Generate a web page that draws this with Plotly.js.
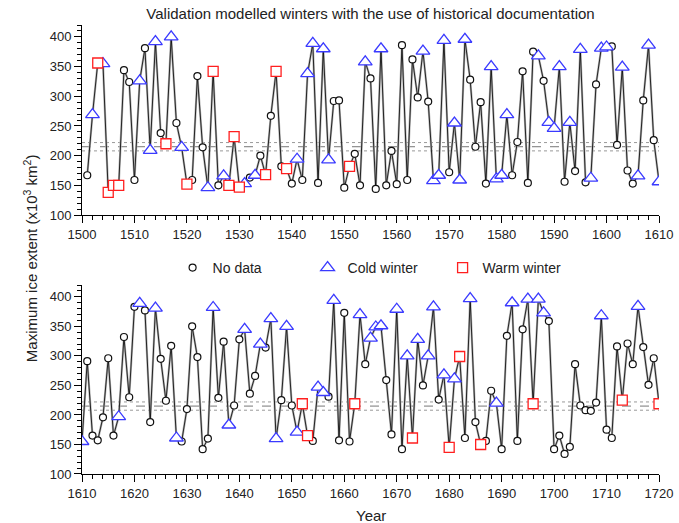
<!DOCTYPE html>
<html>
<head>
<meta charset="utf-8">
<script src="https://cdn.plot.ly/plotly-3.0.1.min.js"></script>
<style>html,body{margin:0;padding:0;background:#fff}#chart{width:679px;height:523px}</style>
</head>
<body>
<div id="chart"></div>
<script>
// ---- Data ----
// Upper panel: 1501-1610
const yearsTop = [1501,1502,1503,1504,1505,1506,1507,1508,1509,1510,1511,1512,1513,1514,1515,1516,1517,1518,1519,1520,
  1521,1522,1523,1524,1525,1526,1527,1528,1529,1530,1531,1532,1533,1534,1535,1536,1537,1538,1539,1540,
  1541,1542,1543,1544,1545,1546,1547,1548,1549,1550,1551,1552,1553,1554,1555,1556,1557,1558,1559,1560,
  1561,1562,1563,1564,1565,1566,1567,1568,1569,1570,1571,1572,1573,1574,1575,1576,1577,1578,1579,1580,
  1581,1582,1583,1584,1585,1586,1587,1588,1589,1590,1591,1592,1593,1594,1595,1596,1597,1598,1599,1600,
  1601,1602,1603,1604,1605,1606,1607,1608,1609,1610];
const valuesTop = [167,269,356,355,138,150,150,344,324,159,326,381,209,392,238,220,400,255,214,152,
  159,334,214,146,342,150,166,150,232,147,153,163,167,200,168,267,342,182,178,153,
  194,159,338,389,154,380,193,292,293,146,182,203,150,358,330,144,380,150,208,152,
  386,159,362,298,376,291,158,167,394,172,255,159,396,328,215,290,153,350,161,167,
  269,167,223,342,154,375,368,326,256,246,350,156,256,174,379,155,162,320,381,383,
  384,218,349,175,153,166,293,386,226,156];
// n = no data, c = cold winter, w = warm winter
const typesTop = ['n','c','w','c','w','w','w','n','n','n','c','n','c','c','n','w','c','n','c','w',
  'n','n','n','c','w','n','c','w','w','w','c','n','c','n','w','n','w','n','w','n',
  'c','n','c','c','n','c','c','n','n','n','w','n','n','c','n','n','c','n','n','n',
  'n','n','n','n','c','n','c','c','c','n','c','c','c','n','n','n','n','c','c','c',
  'c','n','n','n','n','n','c','n','c','c','c','n','c','n','c','n','c','n','c','c',
  'n','n','c','n','n','c','n','c','n','c'];

// Lower panel: 1610-1720
const yearsBottom = [1610,1611,1612,1613,1614,1615,1616,1617,1618,1619,1620,1621,1622,1623,1624,1625,1626,1627,1628,1629,
  1630,1631,1632,1633,1634,1635,1636,1637,1638,1639,1640,1641,1642,1643,1644,1645,1646,1647,1648,1649,
  1650,1651,1652,1653,1654,1655,1656,1657,1658,1659,1660,1661,1662,1663,1664,1665,1666,1667,1668,1669,
  1670,1671,1672,1673,1674,1675,1676,1677,1678,1679,1680,1681,1682,1683,1684,1685,1686,1687,1688,1689,
  1690,1691,1692,1693,1694,1695,1696,1697,1698,1699,1700,1701,1702,1703,1704,1705,1706,1707,1708,1709,
  1710,1711,1712,1713,1714,1715,1716,1717,1718,1719,1720];
const valuesBottom = [155,291,165,157,196,296,165,197,332,230,383,389,377,188,381,295,224,317,161,155,
  210,350,298,142,160,382,229,324,183,216,328,345,236,266,320,314,363,160,225,350,
  216,171,219,165,156,247,238,231,394,157,373,155,219,370,286,330,349,351,259,167,
  379,142,300,161,328,250,300,383,226,268,145,261,299,161,397,188,150,156,241,220,
  142,334,390,156,345,396,219,396,373,359,142,165,134,146,286,216,208,207,221,368,
  175,161,316,225,321,286,384,315,251,296,219];
const typesBottom = ['c','n','n','n','n','n','n','c','n','n','n','c','n','n','c','n','n','n','c','n',
  'n','n','n','n','n','c','n','n','c','n','n','c','n','n','c','n','c','c','n','c',
  'n','c','w','w','n','c','c','n','c','n','n','n','w','c','n','c','c','c','n','n',
  'c','n','c','w','c','n','c','c','n','c','w','c','w','n','c','n','w','n','n','c',
  'n','n','c','n','n','c','w','c','c','n','n','n','n','n','n','n','n','n','n','c',
  'n','n','n','w','n','n','c','n','n','n','w'];

// Reference levels
const refMean = 215;
const refBand = [208, 222];
const rangeTop = [1500, 1610];
const rangeBottom = [1610, 1720];

const legendNames = {n: 'No data', c: 'Cold winter', w: 'Warm winter'};

// ---- Styles ----
const markerStyles = {
  n: {symbol: 'circle', size: 7, color: '#ffffff', line: {color: '#111', width: 1.2}},
  c: {symbol: 'triangle-up', size: 12, color: '#ffffff', line: {color: '#3a3aff', width: 1.3}},
  w: {symbol: 'square', size: 10, color: '#ffffff', line: {color: '#ff1f1f', width: 1.3}}
};

function panelTraces(years, values, types, xa, ya, showLegend) {
  const tr = [];
  tr.push({x: years, y: values, xaxis: xa, yaxis: ya, mode: 'lines', showlegend: false,
    line: {color: '#b4b4b4', width: 2.2}, hoverinfo: 'skip'});
  tr.push({x: years, y: values, xaxis: xa, yaxis: ya, mode: 'lines', showlegend: false,
    line: {color: '#000', width: 0.8}, hoverinfo: 'skip'});
  ['n','c','w'].forEach(k => {
    const xs = [], ys = [];
    types.forEach((t, i) => { if (t === k) { xs.push(years[i]); ys.push(values[i]); } });
    tr.push({x: xs, y: ys, xaxis: xa, yaxis: ya, mode: 'markers', name: legendNames[k],
      showlegend: showLegend, legendgroup: k, marker: markerStyles[k]});
  });
  return tr;
}

const data = [].concat(
  panelTraces(yearsTop, valuesTop, typesTop, 'x', 'y', true),
  panelTraces(yearsBottom, valuesBottom, typesBottom, 'x2', 'y2', false)
);

function refShapes(xref, yref, range) {
  return [
    {type: 'line', xref, yref, x0: range[0], x1: range[1], y0: refMean, y1: refMean,
      line: {color: '#777', width: 1, dash: 'dash'}, layer: 'below'},
    {type: 'line', xref, yref, x0: range[0], x1: range[1], y0: refBand[0], y1: refBand[0],
      line: {color: '#999', width: 1, dash: 'dot'}, layer: 'below'},
    {type: 'line', xref, yref, x0: range[0], x1: range[1], y0: refBand[1], y1: refBand[1],
      line: {color: '#999', width: 1, dash: 'dot'}, layer: 'below'}
  ];
}

const tickFont = {family: 'Liberation Sans, Arial, sans-serif', size: 13, color: '#222'};
function xAxis(range, anchor) {
  return {range, anchor, domain: [0, 1], dtick: 10, tick0: 1500, ticks: 'outside', ticklen: 7, tickwidth: 1,
    tickcolor: '#000', showline: true, linecolor: '#000', linewidth: 1, showgrid: false, zeroline: false,
    tickfont: tickFont, minor: {dtick: 2, ticks: 'outside', ticklen: 4, tickcolor: '#000', showgrid: false}};
}
function yAxis(anchor, domain) {
  return {range: [100, 420], anchor, domain, dtick: 50, tick0: 100, ticks: 'outside', ticklen: 7, tickwidth: 1,
    tickcolor: '#000', showline: true, linecolor: '#000', linewidth: 1, showgrid: false, zeroline: false,
    tickfont: tickFont, minor: {dtick: 10, ticks: 'outside', ticklen: 4, tickcolor: '#000', showgrid: false}};
}

const layout = {
  width: 679, height: 523,
  margin: {l: 82, r: 20, t: 25, b: 49},
  paper_bgcolor: '#fff', plot_bgcolor: '#fff',
  font: {family: 'Liberation Sans, Arial, sans-serif', color: '#222'},
  title: {text: 'Validation modelled winters with the use of historical documentation',
    font: {size: 15, color: '#222'}, xref: 'paper', x: 0.5, xanchor: 'center', y: 0.973, yanchor: 'middle'},
  xaxis: xAxis(rangeTop, 'y'),
  yaxis: yAxis('x', [0.5768, 1]),
  xaxis2: xAxis(rangeBottom, 'y2'),
  yaxis2: yAxis('x2', [0, 0.4209]),
  showlegend: true,
  legend: {orientation: 'h', x: 0.157, xanchor: 'left', y: 0.4588, yanchor: 'middle',
    font: {size: 14, color: '#222'}, entrywidth: 90, entrywidthmode: 'pixels', bgcolor: 'rgba(0,0,0,0)'},
  shapes: [].concat(refShapes('x', 'y', rangeTop), refShapes('x2', 'y2', rangeBottom)),
  annotations: [
    {text: 'Maximum ice extent (x10<sup>3</sup> km<sup>2</sup>)', textangle: -90, xref: 'paper', yref: 'paper',
      x: -0.089, y: 0.48, xanchor: 'center', yanchor: 'middle', showarrow: false, font: {size: 15, color: '#222'}},
    {text: 'Year', xref: 'paper', yref: 'paper', x: 0.5, y: -0.093, xanchor: 'center', yanchor: 'middle',
      showarrow: false, font: {size: 15, color: '#222'}}
  ]
};

Plotly.newPlot('chart', data, layout, {displayModeBar: false, staticPlot: true});
</script>
</body>
</html>
